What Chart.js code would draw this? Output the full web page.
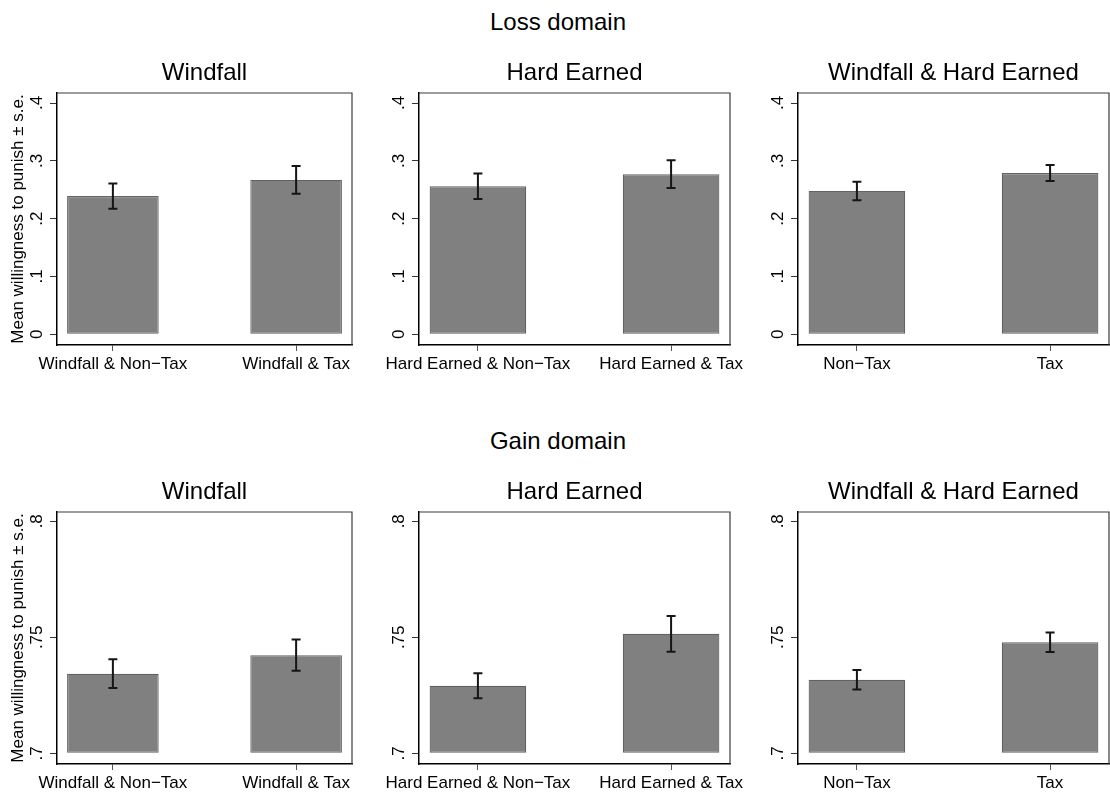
<!doctype html>
<html lang="en">
  <head>
    <meta charset="utf-8">
    <title>Willingness to punish</title>
    <style>
      * {
        margin: 0;
        padding: 0;
      }
      body {
        width: 1110px;
        height: 793px;
        background: white;
        position: relative;
        overflow: hidden;
        font-family: 'Liberation Sans', Arial, sans-serif;
      }
      .rowTitle {
        position: absolute;
        left: 458px;
        width: 200px;
        text-align: center;
        font-size: 24px;
        line-height: 28px;
        color: #000;
      }
      .panel {
        position: absolute;
      }
    </style>
  </head>
  <body>
    <div class="rowTitle" style="top: 8px">Loss domain</div>
    <div class="rowTitle" style="top: 427px">Gain domain</div>
    <div id="panels"></div>

    <script src="https://cdn.jsdelivr.net/npm/chart.js"></script>
    <script>
// data
const panelTitles = ['Windfall', 'Hard Earned', 'Windfall & Hard Earned'];
const categories = [
  ['Windfall & Non\u2212Tax', 'Windfall & Tax'],
  ['Hard Earned & Non\u2212Tax', 'Hard Earned & Tax'],
  ['Non\u2212Tax', 'Tax']
];

const lossMeans = [[0.239, 0.267], [0.256, 0.277], [0.248, 0.279]];
const lossSE    = [[0.0218, 0.024], [0.022, 0.024], [0.016, 0.014]];
const gainMeans = [[0.7343, 0.7423], [0.7291, 0.7515], [0.7317, 0.7479]];
const gainSE    = [[0.0062, 0.0067], [0.0054, 0.0077], [0.0042, 0.0042]];

const lossTicks = [0, 0.1, 0.2, 0.3, 0.4];
const lossTickLabels = ['0', '.1', '.2', '.3', '.4'];
const gainTicks = [0.7, 0.75, 0.8];
const gainTickLabels = ['.7', '.75', '.8'];

const yTitle = 'Mean willingness to punish \u00b1 s.e.';

Chart.defaults.font.family = "'Liberation Sans', Arial, sans-serif";
Chart.defaults.font.size = 17;
Chart.defaults.color = '#000';

// layout of the 3 x 2 grid (canvas boxes)
const cols = [
  { left: 0,   yW: 57, padL: 0,  plotW: 295, padR: 30 },
  { left: 363, yW: 40, padL: 16, plotW: 311, padR: 30 },
  { left: 742, yW: 40, padL: 16, plotW: 311, padR: 1 }
];
const rowTops = [49, 468];
const titleH = 44, plotH = 252, xH = 30;
const xMin = -0.305, xMax = 1.305;

function makePanel(row, col) {
  const c = cols[col];
  const means = row === 0 ? lossMeans[col] : gainMeans[col];
  const se = row === 0 ? lossSE[col] : gainSE[col];
  const ticks = row === 0 ? lossTicks : gainTicks;
  const tickLabels = row === 0 ? lossTickLabels : gainTickLabels;
  const yMin = row === 0 ? -0.0185 : 0.6954;
  const yMax = row === 0 ? 0.4173 : 0.804;
  const base = row === 0 ? 0 : 0.7;

  const div = document.createElement('div');
  div.className = 'panel';
  div.style.left = c.left + 'px';
  div.style.top = rowTops[row] + 'px';
  const canvas = document.createElement('canvas');
  canvas.width = c.padL + c.yW + c.plotW + c.padR;
  canvas.height = titleH + plotH + xH;
  div.appendChild(canvas);
  document.getElementById('panels').appendChild(div);

  const extras = {
    id: 'extras',
    afterDatasetsDraw(chart) {
      const ctx = chart.ctx;
      const xs = chart.scales.x, ys = chart.scales.y;
      ctx.save();
      ctx.strokeStyle = '#151515';
      ctx.lineWidth = 2;
      means.forEach((m, i) => {
        const x = xs.getPixelForValue(i);
        const yt = ys.getPixelForValue(m + se[i]);
        const yb = ys.getPixelForValue(m - se[i]);
        ctx.beginPath();
        ctx.moveTo(x, yt); ctx.lineTo(x, yb);
        ctx.moveTo(x - 4.5, yt); ctx.lineTo(x + 4.5, yt);
        ctx.moveTo(x - 4.5, yb); ctx.lineTo(x + 4.5, yb);
        ctx.stroke();
      });
      ctx.restore();
    },
    afterDraw(chart) {
      const ctx = chart.ctx;
      const a = chart.chartArea;
      const ys = chart.scales.y;
      ctx.save();
      // top and right edge of the plot box
      ctx.strokeStyle = '#3a3a3a';
      ctx.lineWidth = 1.2;
      ctx.beginPath();
      ctx.moveTo(a.left, a.top); ctx.lineTo(a.right, a.top); ctx.lineTo(a.right, a.bottom);
      ctx.stroke();
      // rotated y tick labels
      ctx.fillStyle = '#000';
      ctx.font = "17px 'Liberation Sans', Arial, sans-serif";
      ctx.textAlign = 'center';
      ctx.textBaseline = 'alphabetic';
      ticks.forEach((v, i) => {
        ctx.save();
        ctx.translate(a.left - 15, ys.getPixelForValue(v));
        ctx.rotate(-Math.PI / 2);
        ctx.fillText(tickLabels[i], 0, 0);
        ctx.restore();
      });
      ctx.restore();
    }
  };

  new Chart(canvas, {
    type: 'bar',
    data: {
      datasets: [{
        data: means.map((m, i) => ({ x: i, y: m })),
        base: base,
        backgroundColor: '#808080',
        borderColor: '#626262',
        borderWidth: 1.2,
        borderSkipped: false,
        barPercentage: 0.5,
        categoryPercentage: 1
      }]
    },
    options: {
      responsive: false,
      animation: false,
      layout: { padding: { left: c.padL, right: c.padR, top: 0, bottom: 0 } },
      plugins: {
        legend: { display: false },
        tooltip: { enabled: false },
        title: {
          display: true,
          text: panelTitles[col],
          fullSize: false,
          color: '#000',
          font: { size: 24, weight: 'normal', lineHeight: 1.2 },
          padding: { top: 10.2, bottom: 5 }
        }
      },
      scales: {
        x: {
          type: 'linear',
          offset: false,
          min: xMin,
          max: xMax,
          afterDataLimits: s => { s.min = xMin; s.max = xMax; },
          afterBuildTicks: s => { s.ticks = [{ value: 0 }, { value: 1 }]; s.min = xMin; s.max = xMax; },
          afterFit: s => { s.height = xH; },
          grid: { offset: false, drawOnChartArea: false, drawTicks: true, tickLength: 6, color: '#555' },
          border: { color: '#000', width: 1.5 },
          ticks: {
            padding: 3,
            maxRotation: 0,
            autoSkip: false,
            color: '#000',
            callback: (v, i) => categories[col][i]
          }
        },
        y: {
          min: yMin,
          max: yMax,
          afterBuildTicks: s => { s.ticks = ticks.map(v => ({ value: v })); },
          afterFit: s => { s.width = c.yW; },
          grid: { drawOnChartArea: false, drawTicks: true, tickLength: 7, color: '#333' },
          border: { color: '#000', width: 1.5 },
          ticks: { display: false },
          title: {
            display: col === 0,
            text: yTitle,
            color: '#000',
            font: { size: 17 },
            padding: { top: 8.5, bottom: 0 }
          }
        }
      }
    },
    plugins: [extras]
  });
}

for (let r = 0; r < 2; r++) {
  for (let k = 0; k < 3; k++) {
    makePanel(r, k);
  }
}
    </script>
  </body>
</html>
